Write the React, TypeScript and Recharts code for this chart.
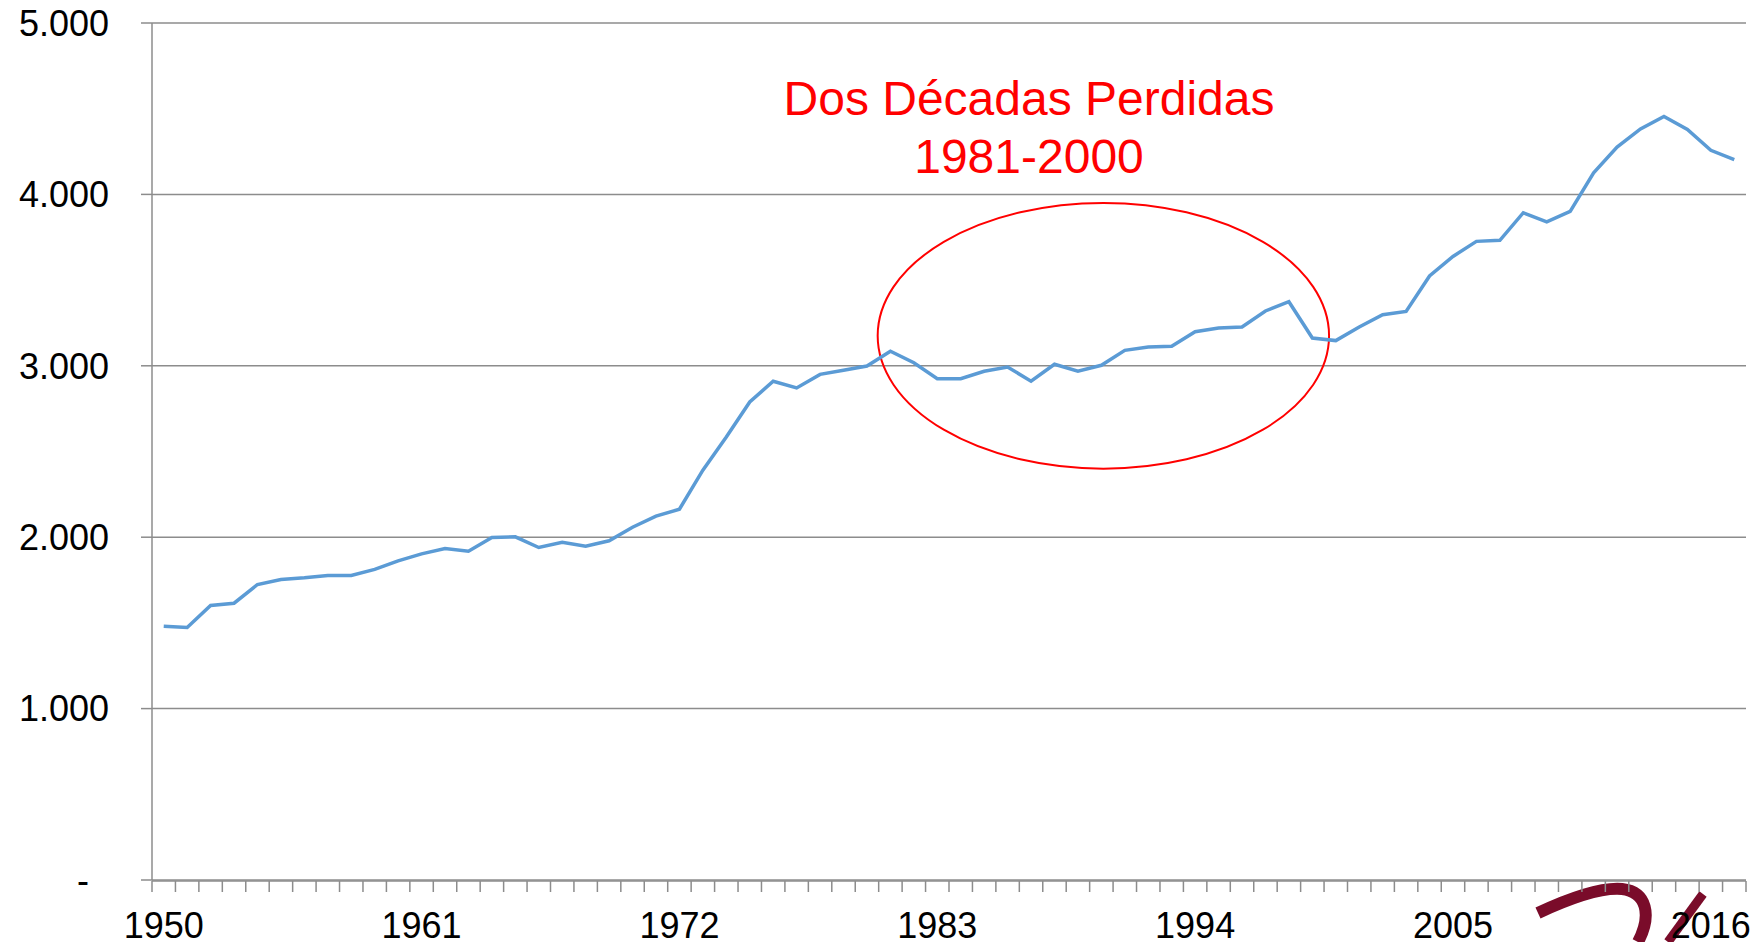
import React from 'react';
import {
  LineChart,
  Line,
  XAxis,
  YAxis,
  CartesianGrid,
  ReferenceArea,
} from 'recharts';

// Years on the category axis
const years = [
  1950, 1951, 1952, 1953, 1954, 1955, 1956, 1957, 1958, 1959,
  1960, 1961, 1962, 1963, 1964, 1965, 1966, 1967, 1968, 1969,
  1970, 1971, 1972, 1973, 1974, 1975, 1976, 1977, 1978, 1979,
  1980, 1981, 1982, 1983, 1984, 1985, 1986, 1987, 1988, 1989,
  1990, 1991, 1992, 1993, 1994, 1995, 1996, 1997, 1998, 1999,
  2000, 2001, 2002, 2003, 2004, 2005, 2006, 2007, 2008, 2009,
  2010, 2011, 2012, 2013, 2014, 2015, 2016, 2017,
];

// Values
const values = [
  1481, 1473, 1602, 1615, 1724, 1753, 1763, 1777, 1777, 1812,
  1862, 1903, 1934, 1918, 1998, 2002, 1940, 1971, 1948, 1979,
  2058, 2123, 2163, 2391, 2585, 2789, 2910, 2871, 2950, 2974,
  2999, 3085, 3018, 2925, 2925, 2968, 2993, 2910, 3009, 2968,
  3003, 3090, 3110, 3114, 3199, 3221, 3226, 3320, 3374, 3162,
  3147, 3226, 3298, 3317, 3524, 3638, 3726, 3732, 3893, 3840,
  3901, 4126, 4276, 4382, 4455, 4379, 4257, 4203,
];

const yTicks = [0, 1000, 2000, 3000, 4000, 5000];

// circled period
const lostStart = 1981;
const lostEnd = 1999;
const lostLow = 2400;
const lostHigh = 3950;

const data = years.map((year, i) => ({ year, idx: i, value: values[i] }));
// tick marks sit on the edges between the years
const boundaryTicks = years.map((_, i) => i).concat(years.length);

const GRAY = '#8c8c8c';
const FONT = '"Liberation Sans", Arial, sans-serif';

const fmt = (v: number) =>
  v === 0 ? '-\u2007' : String(v).replace(/\B(?=(\d{3})+(?!\d))/g, '.');

const EllipseShape = (props: any) => {
  const { x, y, width, height } = props;
  return (
    <ellipse
      cx={x + width / 2 + 2}
      cy={y + height / 2}
      rx={width / 2 + 3}
      ry={height / 2}
      fill="none"
      stroke="#FF0000"
      strokeWidth={2}
    />
  );
};

const App = () => {
  return (
    <div style={{ position: 'absolute', left: 0, top: 0, width: 1762, height: 942, background: '#fff' }}>
      {/* logo swoosh behind the chart */}
      <svg width={1762} height={942} style={{ position: 'absolute', left: 0, top: 0 }}>
        <path
          d="M1538 913 C1568 899 1600 887 1622 889 C1647 892 1652 915 1638 942"
          fill="none"
          stroke="#7a0c2a"
          strokeWidth={12}
          strokeLinecap="butt"
        />
        <path d="M1703 894 L1668 942" fill="none" stroke="#7a0c2a" strokeWidth={9} />
      </svg>

      <div style={{ position: 'absolute', left: 0, top: 0 }}>
        <LineChart
          width={1762}
          height={942}
          data={data}
          margin={{ top: 23, right: 16, left: 0, bottom: 0 }}
        >
          <CartesianGrid vertical={false} stroke={GRAY} strokeWidth={1.5} />
          <XAxis
            dataKey="year"
            scale="band"
            interval={10}
            height={1}
            tickSize={12}
            tickMargin={20}
            tickLine={false}
            axisLine={false}
            tick={{ fill: '#000', fontSize: 36, fontFamily: FONT }}
          />
          <XAxis
            xAxisId="edges"
            dataKey="idx"
            type="number"
            domain={[0, years.length]}
            allowDataOverflow
            ticks={boundaryTicks}
            interval={0}
            height={61}
            tickSize={11}
            tickFormatter={() => ''}
            axisLine={{ stroke: GRAY, strokeWidth: 1.5 }}
            tickLine={{ stroke: GRAY, strokeWidth: 1.5 }}
          />
          <YAxis
            width={152}
            domain={[0, 5000]}
            ticks={yTicks}
            interval={0}
            tickFormatter={fmt}
            tickSize={11}
            tickMargin={32}
            axisLine={{ stroke: GRAY, strokeWidth: 1.5 }}
            tickLine={{ stroke: GRAY, strokeWidth: 1.5 }}
            tick={{ fill: '#000', fontSize: 36, fontFamily: FONT }}
          />
          <ReferenceArea
            x1={lostStart}
            x2={lostEnd}
            y1={lostLow}
            y2={lostHigh}
            shape={EllipseShape}
          />
          <Line
            type="linear"
            dataKey="value"
            stroke="#5B9BD5"
            strokeWidth={3.5}
            dot={false}
            isAnimationActive={false}
          />
        </LineChart>
      </div>

      <svg width={1762} height={942} style={{ position: 'absolute', left: 0, top: 0, pointerEvents: 'none' }}>
        <text x={1029} y={115} textAnchor="middle" fill="#FF0000" fontSize={48} fontFamily={FONT}>
          Dos Décadas Perdidas
        </text>
        <text x={1029} y={173} textAnchor="middle" fill="#FF0000" fontSize={48} fontFamily={FONT}>
          1981-2000
        </text>
      </svg>
    </div>
  );
};

export default App;
